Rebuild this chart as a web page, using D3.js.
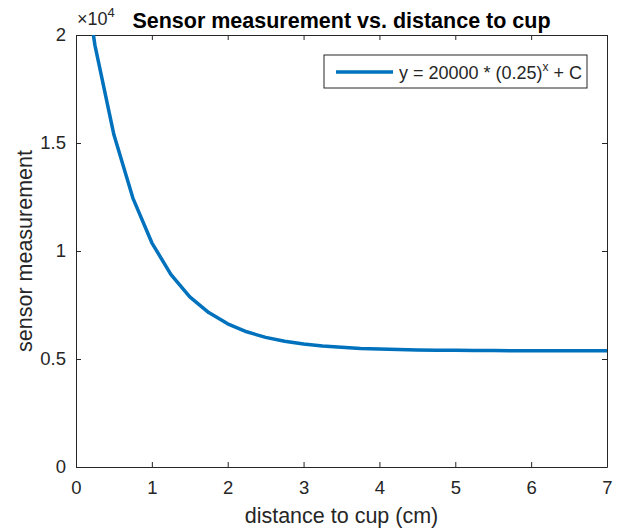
<!DOCTYPE html>
<html lang="en">
<head>
  <meta charset="UTF-8">
  <title>Sensor measurement vs. distance to cup</title>
  <script src="https://d3js.org/d3.v7.min.js"></script>
  <style>
    body { margin: 0; padding: 0; background: #fff; }
    svg { font-family: "Liberation Sans", Arial, sans-serif; }
    .tick text { fill: #262626; font-size: 18.5px; }
  </style>
</head>
<body>
  <div id="chart"></div>
  <script>
    // distance (cm) and sensor reading
    const distance = [0, 0.25, 0.5, 0.75, 1, 1.25, 1.5, 1.75, 2, 2.25, 2.5, 2.75, 3,
                      3.25, 3.5, 3.75, 4, 4.25, 4.5, 4.75, 5, 5.25, 5.5, 5.75, 6,
                      6.25, 6.5, 6.75, 7];
    const measurement = [25380, 19520, 15380, 12450, 10380, 8920, 7880, 7150, 6630,
                         6260, 6000, 5820, 5690, 5600, 5540, 5490, 5460, 5435, 5420,
                         5408, 5400, 5394, 5390, 5387, 5385, 5383, 5382, 5381, 5380];
    const xTicks = [0, 1, 2, 3, 4, 5, 6, 7];
    const yTicks = [0, 5000, 10000, 15000, 20000];
    const legendLabel = "y = 20000 * (0.25)";

    const W = 627, H = 529;
    const margin = { top: 35, right: 20, bottom: 62, left: 76 };
    const width = W - margin.left - margin.right;
    const height = H - margin.top - margin.bottom;

    const x = d3.scaleLinear().domain([0, 7]).range([0, width]);
    const y = d3.scaleLinear().domain([0, 20000]).range([height, 0]);

    const svg = d3.select("#chart").append("svg")
      .attr("width", W).attr("height", H);
    const g = svg.append("g")
      .attr("transform", `translate(${margin.left},${margin.top})`);

    g.append("defs").append("clipPath").attr("id", "clip")
      .append("rect").attr("width", width).attr("height", height);

    const axisColor = "#262626";

    // axes with inward ticks, box on all four sides
    const xAxis = g.append("g").attr("transform", `translate(0,${height})`)
      .call(d3.axisBottom(x).tickValues(xTicks).tickSizeInner(-5).tickSizeOuter(0)
        .tickPadding(14).tickFormat(d3.format("d")));
    const xTop = g.append("g")
      .call(d3.axisTop(x).tickValues(xTicks).tickSizeInner(-5).tickSizeOuter(0).tickFormat(""));
    const yAxis = g.append("g")
      .call(d3.axisLeft(y).tickValues(yTicks).tickSizeInner(-5).tickSizeOuter(0).tickPadding(10)
        .tickFormat(d => d / 10000));
    const yRight = g.append("g").attr("transform", `translate(${width},0)`)
      .call(d3.axisRight(y).tickValues(yTicks).tickSizeInner(-5).tickSizeOuter(0).tickFormat(""));

    [xAxis, xTop, yAxis, yRight].forEach(a => {
      a.select(".domain").attr("stroke", axisColor).attr("stroke-width", 1);
      a.selectAll(".tick line").attr("stroke", axisColor);
      a.selectAll(".tick text").style("font-family", "Liberation Sans, Arial, sans-serif");
    });
    xAxis.selectAll(".tick text").attr("dy", "0.71em");

    // exponent label
    svg.append("text")
      .attr("x", margin.left + 1).attr("y", margin.top - 10)
      .attr("fill", axisColor).style("font-size", "18px")
      .text("\u00d710")
      .append("tspan").attr("dy", -8).style("font-size", "13px").text("4");

    // curve
    const pts = distance.map((d, i) => [d, measurement[i]]);
    g.append("path")
      .datum(pts)
      .attr("clip-path", "url(#clip)")
      .attr("fill", "none")
      .attr("stroke", "#0072BD")
      .attr("stroke-width", 3.5)
      .attr("stroke-linejoin", "round")
      .attr("d", d3.line().x(d => x(d[0])).y(d => y(d[1])));

    // title
    svg.append("text")
      .attr("x", margin.left + width / 2).attr("y", 28)
      .attr("text-anchor", "middle")
      .style("font-size", "21.5px").style("font-weight", "bold")
      .attr("fill", "#000")
      .text("Sensor measurement vs. distance to cup");

    // axis labels
    svg.append("text")
      .attr("x", margin.left + width / 2).attr("y", 523)
      .attr("text-anchor", "middle").attr("fill", axisColor)
      .style("font-size", "21.5px")
      .text("distance to cup (cm)");
    svg.append("text")
      .attr("transform", `translate(32,${margin.top + height / 2}) rotate(-90)`)
      .attr("text-anchor", "middle").attr("fill", axisColor)
      .style("font-size", "21.5px")
      .text("sensor measurement");

    // legend
    const lg = svg.append("g").attr("transform", "translate(324,55)");
    lg.append("rect").attr("width", 263).attr("height", 33)
      .attr("fill", "#fff").attr("stroke", axisColor).attr("stroke-width", 1);
    lg.append("line").attr("x1", 12).attr("x2", 69).attr("y1", 17).attr("y2", 17)
      .attr("stroke", "#0072BD").attr("stroke-width", 3.5);
    const lt = lg.append("text").attr("x", 75).attr("y", 24)
      .attr("fill", axisColor).style("font-size", "18px").text(legendLabel);
    lt.append("tspan").attr("dy", -8).style("font-size", "12px").text("x");
    lt.append("tspan").attr("dy", 8).text(" + C");
  </script>
</body>
</html>
